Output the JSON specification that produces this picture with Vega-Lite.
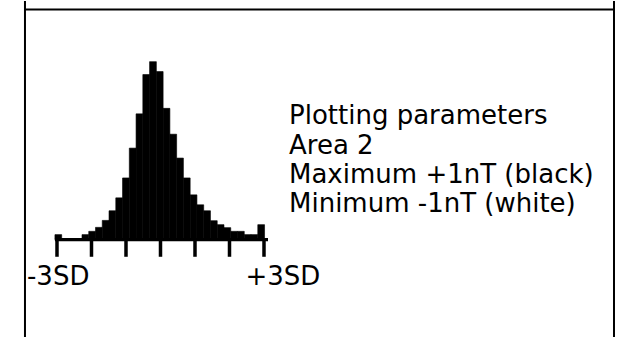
{
  "$schema": "https://vega.github.io/schema/vega-lite/v6.json",
  "width": 620,
  "height": 338,
  "autosize": {"type": "fit", "contains": "padding"},
  "padding": 0,
  "background": "white",
  "config": {"view": {"stroke": null}},
  "datasets": {
    "bins": [
      {"lo": -3.06, "hi": -2.864, "count": 5},
      {"lo": -2.864, "hi": -2.668, "count": 1},
      {"lo": -2.668, "hi": -2.472, "count": 1},
      {"lo": -2.472, "hi": -2.276, "count": 1},
      {"lo": -2.276, "hi": -2.08, "count": 5},
      {"lo": -2.08, "hi": -1.884, "count": 8.3},
      {"lo": -1.884, "hi": -1.688, "count": 12.3},
      {"lo": -1.688, "hi": -1.492, "count": 19.3},
      {"lo": -1.492, "hi": -1.296, "count": 29},
      {"lo": -1.296, "hi": -1.1, "count": 42},
      {"lo": -1.1, "hi": -0.904, "count": 62},
      {"lo": -0.904, "hi": -0.708, "count": 92},
      {"lo": -0.708, "hi": -0.512, "count": 126.5},
      {"lo": -0.512, "hi": -0.316, "count": 166},
      {"lo": -0.316, "hi": -0.12, "count": 179},
      {"lo": -0.12, "hi": 0.076, "count": 169},
      {"lo": 0.076, "hi": 0.272, "count": 132},
      {"lo": 0.272, "hi": 0.468, "count": 106},
      {"lo": 0.468, "hi": 0.664, "count": 82},
      {"lo": 0.664, "hi": 0.86, "count": 62},
      {"lo": 0.86, "hi": 1.056, "count": 45},
      {"lo": 1.056, "hi": 1.252, "count": 35},
      {"lo": 1.252, "hi": 1.448, "count": 29},
      {"lo": 1.448, "hi": 1.644, "count": 19},
      {"lo": 1.644, "hi": 1.84, "count": 15},
      {"lo": 1.84, "hi": 2.036, "count": 12},
      {"lo": 2.036, "hi": 2.232, "count": 8.3},
      {"lo": 2.232, "hi": 2.428, "count": 8.3},
      {"lo": 2.428, "hi": 2.624, "count": 5},
      {"lo": 2.624, "hi": 2.82, "count": 5},
      {"lo": 2.82, "hi": 3.016, "count": 15}
    ],
    "axisline": [{"x": -3.06, "x2": 3.116, "y": 0}],
    "ticks": [
      {"x": -3, "y": 0, "y2": -17.3},
      {"x": -2, "y": 0, "y2": -17.3},
      {"x": -1, "y": 0, "y2": -17.3},
      {"x": 0, "y": 0, "y2": -17.3},
      {"x": 1, "y": 0, "y2": -17.3},
      {"x": 2, "y": 0, "y2": -17.3},
      {"x": 3, "y": 0, "y2": -17.3}
    ],
    "vframe": [
      {"x": -3.928, "y": 240, "y2": -98},
      {"x": 13.145, "y": 240, "y2": -98}
    ],
    "hframe": [{"x": -3.928, "x2": 13.145, "y": 231.5}],
    "labels": [
      {"x": -3.87, "y": -46, "text": "-3SD"},
      {"x": 2.464, "y": -46, "text": "+3SD"},
      {"x": 3.725, "y": 116, "text": "Plotting parameters"},
      {"x": 3.725, "y": 86.5, "text": "Area 2"},
      {"x": 3.725, "y": 57, "text": "Maximum +1nT (black)"},
      {"x": 3.725, "y": 27.5, "text": "Minimum -1nT (white)"}
    ]
  },
  "layer": [
    {
      "data": {"name": "bins"},
      "mark": {"type": "rect", "color": "black", "stroke": "black", "strokeWidth": 0.6},
      "encoding": {
        "x": {"field": "lo", "type": "quantitative", "scale": {"domain": [-4.652, 13.319], "nice": false, "zero": false}, "axis": null},
        "x2": {"field": "hi"},
        "y": {"field": "count", "type": "quantitative", "scale": {"domain": [-98, 240], "nice": false, "zero": false}, "axis": null},
        "y2": {"datum": 0}
      }
    },
    {
      "data": {"name": "axisline"},
      "mark": {"type": "rule", "color": "black", "strokeWidth": 3.4},
      "encoding": {
        "x": {"field": "x", "type": "quantitative", "scale": {"domain": [-4.652, 13.319], "nice": false, "zero": false}, "axis": null},
        "x2": {"field": "x2"},
        "y": {"field": "y", "type": "quantitative", "scale": {"domain": [-98, 240], "nice": false, "zero": false}, "axis": null}
      }
    },
    {
      "data": {"name": "ticks"},
      "mark": {"type": "rule", "color": "black", "strokeWidth": 3.5},
      "encoding": {
        "x": {"field": "x", "type": "quantitative", "scale": {"domain": [-4.652, 13.319], "nice": false, "zero": false}, "axis": null},
        "y": {"field": "y", "type": "quantitative", "scale": {"domain": [-98, 240], "nice": false, "zero": false}, "axis": null},
        "y2": {"field": "y2"}
      }
    },
    {
      "data": {"name": "vframe"},
      "mark": {"type": "rule", "color": "black", "strokeWidth": 2},
      "encoding": {
        "x": {"field": "x", "type": "quantitative", "scale": {"domain": [-4.652, 13.319], "nice": false, "zero": false}, "axis": null},
        "y": {"field": "y", "type": "quantitative", "scale": {"domain": [-98, 240], "nice": false, "zero": false}, "axis": null},
        "y2": {"field": "y2"}
      }
    },
    {
      "data": {"name": "hframe"},
      "mark": {"type": "rule", "color": "black", "strokeWidth": 2},
      "encoding": {
        "x": {"field": "x", "type": "quantitative", "scale": {"domain": [-4.652, 13.319], "nice": false, "zero": false}, "axis": null},
        "x2": {"field": "x2"},
        "y": {"field": "y", "type": "quantitative", "scale": {"domain": [-98, 240], "nice": false, "zero": false}, "axis": null}
      }
    },
    {
      "data": {"name": "labels"},
      "mark": {"type": "text", "color": "black", "font": "DejaVu Sans", "fontSize": 26, "align": "left", "baseline": "alphabetic"},
      "encoding": {
        "x": {"field": "x", "type": "quantitative", "scale": {"domain": [-4.652, 13.319], "nice": false, "zero": false}, "axis": null},
        "y": {"field": "y", "type": "quantitative", "scale": {"domain": [-98, 240], "nice": false, "zero": false}, "axis": null},
        "text": {"field": "text"}
      }
    }
  ]
}
